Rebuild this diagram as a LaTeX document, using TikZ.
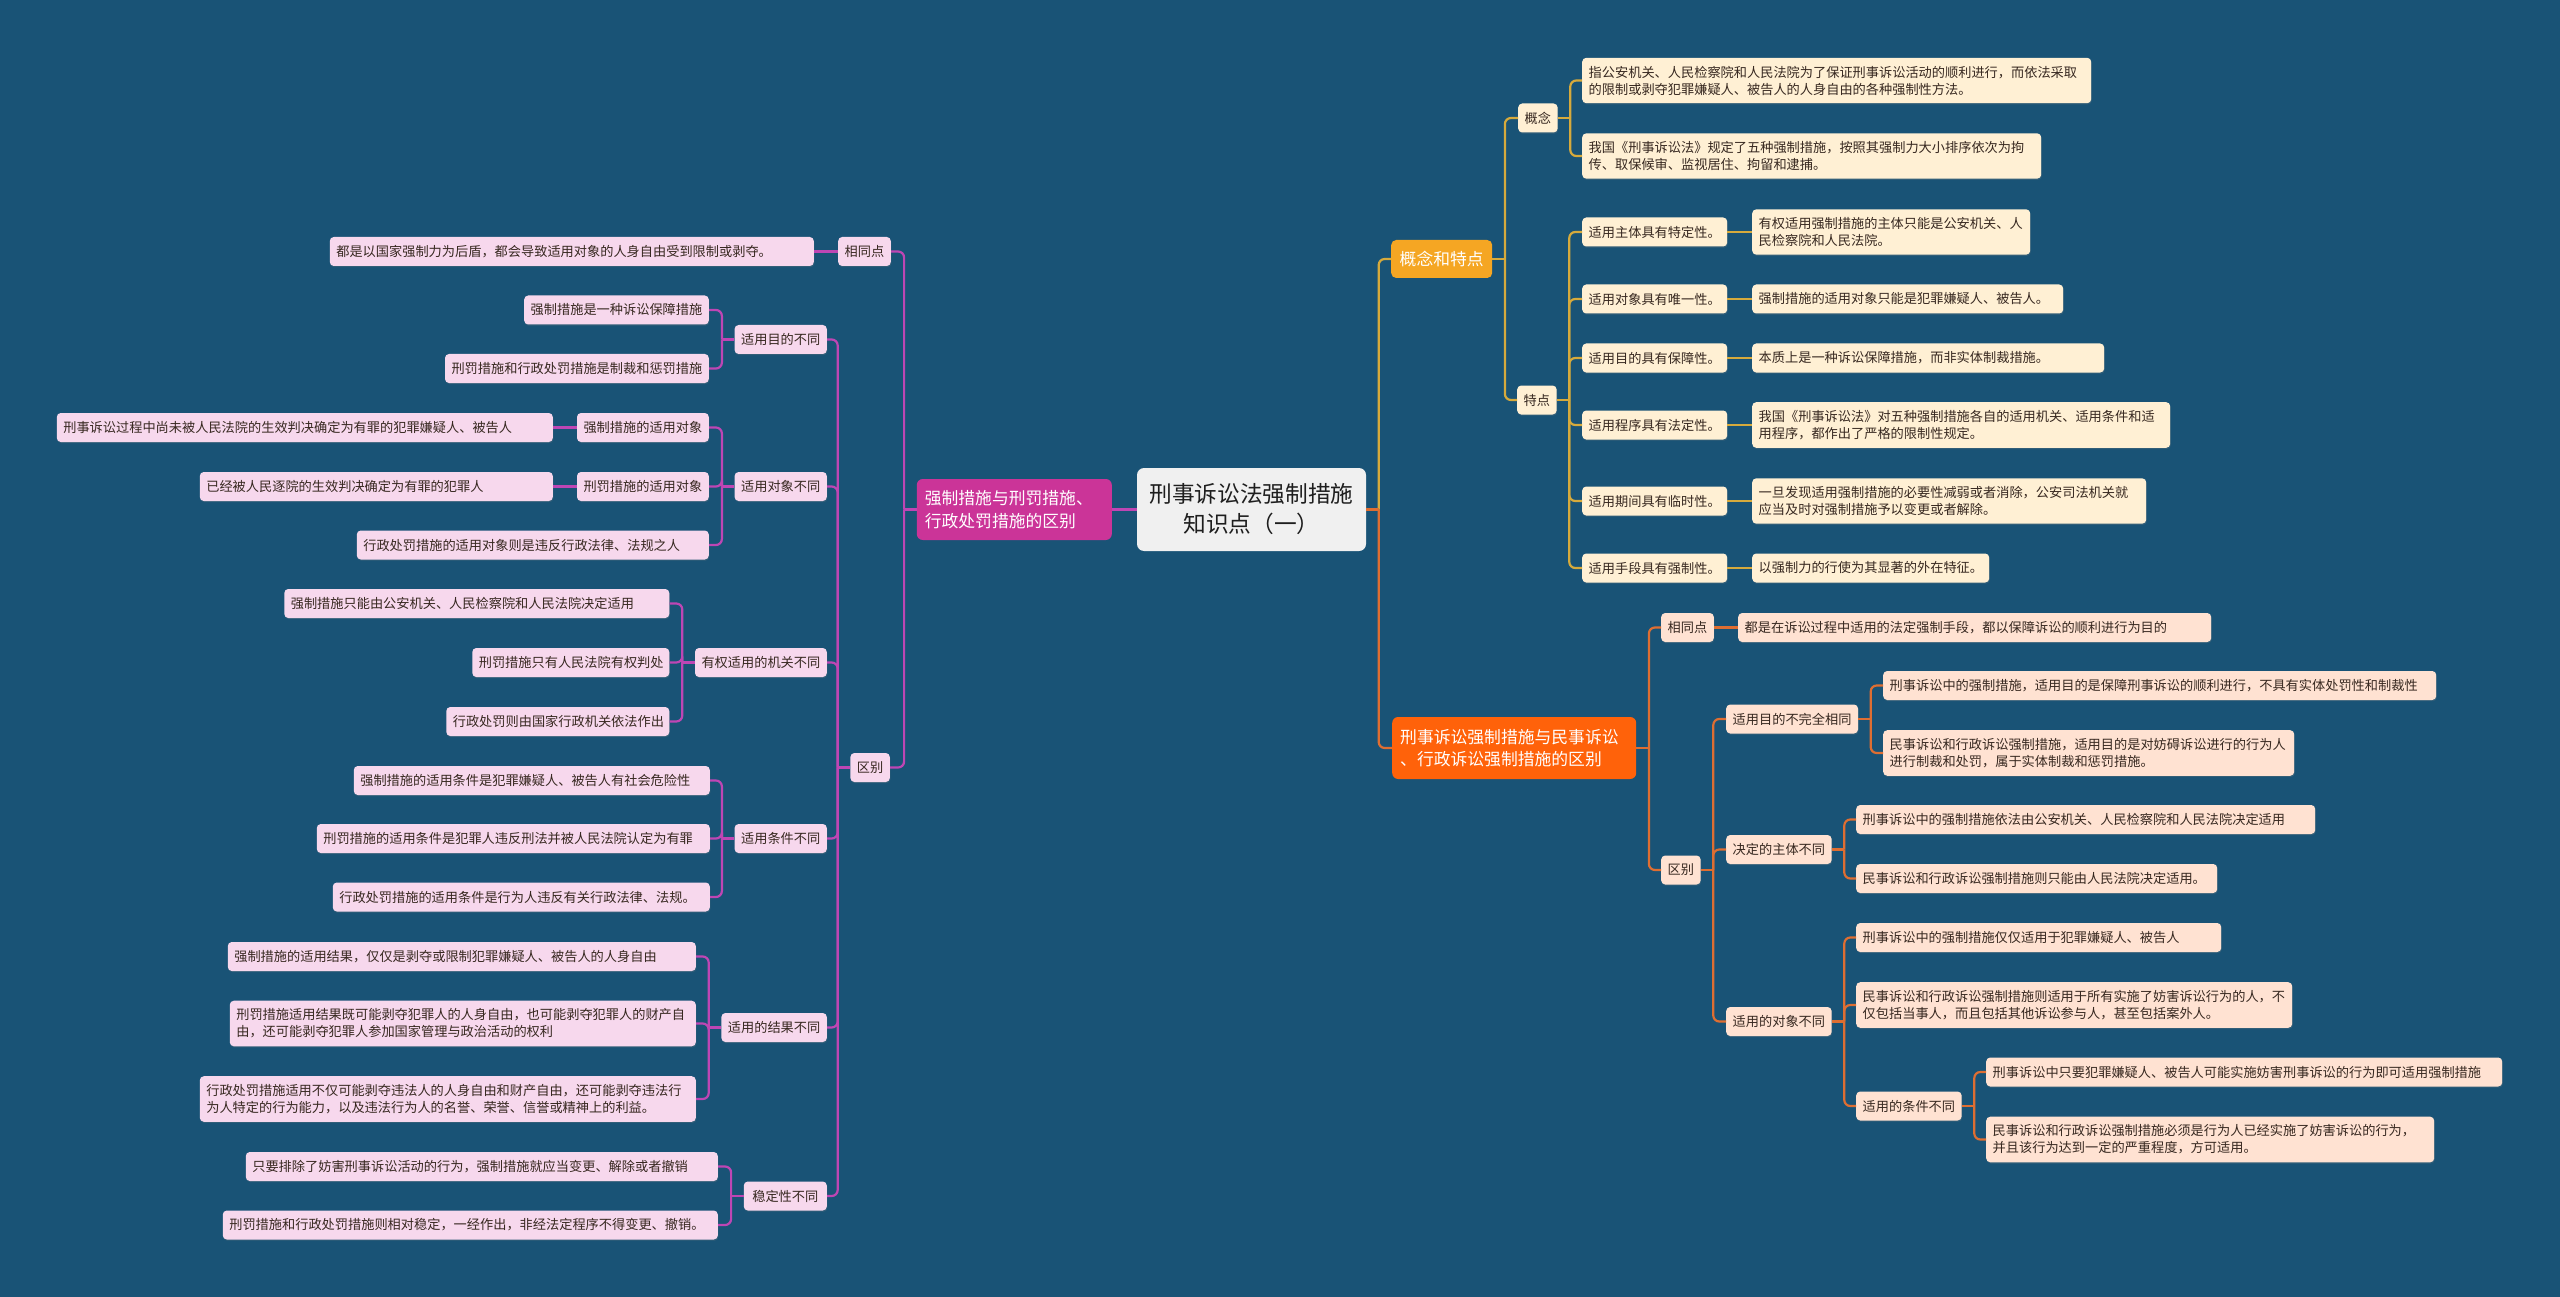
\documentclass[tikz,border=0pt]{standalone}
\usepackage{fontspec}
\setmainfont{Noto Sans CJK SC}
\usepackage{xcolor}
\usetikzlibrary{shadows}

\definecolor{bgblue}{RGB}{25,83,118}
\definecolor{rootfill}{RGB}{240,240,240}
\definecolor{roottext}{RGB}{30,30,30}
\definecolor{inktext}{RGB}{55,40,32}
\definecolor{pinkmain}{RGB}{203,52,152}
\definecolor{pinkleaf}{RGB}{247,216,237}
\definecolor{pinkline}{RGB}{190,70,180}
\definecolor{goldmain}{RGB}{245,166,35}
\definecolor{goldleaf}{RGB}{255,240,212}
\definecolor{goldline}{RGB}{214,170,60}
\definecolor{orgmain}{RGB}{255,98,10}
\definecolor{orgleaf}{RGB}{255,226,210}
\definecolor{orgline}{RGB}{222,110,50}

\newcommand\leaffont{\fontsize{13.2pt}{17pt}\selectfont}
\newcommand\branchfont{\fontsize{16.8pt}{22.5pt}\selectfont}
\newcommand\rootfont{\fontsize{22.7pt}{30pt}\selectfont}

\begin{document}
\begin{tikzpicture}[x=1pt,y=-1pt,
  leaf/.style={rounded corners=4,inner xsep=6.5,inner ysep=8,minimum height=29,align=left,font=\leaffont,text=inktext,
    drop shadow={shadow xshift=0.6pt,shadow yshift=-1.2pt,opacity=0.25}},
  lleaf/.style={leaf,fill=pinkleaf,anchor=east},
  gleaf/.style={leaf,fill=goldleaf,anchor=west},
  oleaf/.style={leaf,fill=orgleaf,anchor=west},
  plink/.style={draw=pinkline,line width=2.2,rounded corners=6},
  glink/.style={draw=goldline,line width=2.2,rounded corners=6},
  olink/.style={draw=orgline,line width=2.2,rounded corners=6}]

\fill[bgblue] (0,0) rectangle (2560,1297);

% centre
\node[fill=rootfill,rounded corners=7,minimum width=229,minimum height=83,align=center,font=\rootfont,text=roottext] (root) at (1251.5,509.5) {刑事诉讼法强制措施\\知识点（一）};

% left branch
\node[fill=pinkmain,rounded corners=6,anchor=east,text width=179pt,inner xsep=8,minimum height=61,align=left,font=\branchfont,text=white] (lmain) at (1112,509.5) {强制措施与刑罚措施、\\行政处罚措施的区别};

\node[lleaf] (lsame) at (891,251.5) {相同点};
\node[lleaf,text width=471pt] (lsameT) at (814,251.5) {都是以国家强制力为后盾，都会导致适用对象的人身自由受到限制或剥夺。};
\node[lleaf] (ldiff) at (890,767.5) {区别};

\node[lleaf] (ld1) at (827,339.5) {适用目的不同};
\node[lleaf] (ld1a) at (709,310) {强制措施是一种诉讼保障措施};
\node[lleaf] (ld1b) at (709,368.5) {刑罚措施和行政处罚措施是制裁和惩罚措施};

\node[lleaf] (ld2) at (827,486.5) {适用对象不同};
\node[lleaf] (ld2a) at (709,427.5) {强制措施的适用对象};
\node[lleaf,text width=483pt] (ld2aT) at (553,427.5) {刑事诉讼过程中尚未被人民法院的生效判决确定为有罪的犯罪嫌疑人、被告人};
\node[lleaf] (ld2b) at (709,486.5) {刑罚措施的适用对象};
\node[lleaf,text width=340pt] (ld2bT) at (553,486.5) {已经被人民逐院的生效判决确定为有罪的犯罪人};
\node[lleaf,text width=339pt] (ld2c) at (709,545) {行政处罚措施的适用对象则是违反行政法律、法规之人};

\node[lleaf] (ld3) at (827,662.5) {有权适用的机关不同};
\node[lleaf,text width=372pt] (ld3a) at (669.5,603.5) {强制措施只能由公安机关、人民检察院和人民法院决定适用};
\node[lleaf,text width=184pt] (ld3b) at (669.5,662.5) {刑罚措施只有人民法院有权判处};
\node[lleaf,text width=210pt] (ld3c) at (669.5,721.5) {行政处罚则由国家行政机关依法作出};

\node[lleaf] (ld4) at (827,838.5) {适用条件不同};
\node[lleaf,text width=343pt] (ld4a) at (710,780.5) {强制措施的适用条件是犯罪嫌疑人、被告人有社会危险性};
\node[lleaf,text width=380pt] (ld4b) at (710,838.5) {刑罚措施的适用条件是犯罪人违反刑法并被人民法院认定为有罪};
\node[lleaf,text width=364pt] (ld4c) at (710,897) {行政处罚措施的适用条件是行为人违反有关行政法律、法规。};

\node[lleaf] (ld5) at (827,1027.5) {适用的结果不同};
\node[lleaf,text width=455pt] (ld5a) at (696,956.5) {强制措施的适用结果，仅仅是剥夺或限制犯罪嫌疑人、被告人的人身自由};
\node[lleaf,text width=453pt] (ld5b) at (696,1023.5) {刑罚措施适用结果既可能剥夺犯罪人的人身自由，也可能剥夺犯罪人的财产自\\由，还可能剥夺犯罪人参加国家管理与政治活动的权利};
\node[lleaf,text width=483pt] (ld5c) at (696,1099) {行政处罚措施适用不仅可能剥夺违法人的人身自由和财产自由，还可能剥夺违法行\\为人特定的行为能力，以及违法行为人的名誉、荣誉、信誉或精神上的利益。};

\node[lleaf,minimum width=83] (ld6) at (827,1196) {稳定性不同};
\node[lleaf,text width=459pt] (ld6a) at (718,1166.5) {只要排除了妨害刑事诉讼活动的行为，强制措施就应当变更、解除或者撤销};
\node[lleaf,text width=482pt] (ld6b) at (718,1225) {刑罚措施和行政处罚措施则相对稳定，一经作出，非经法定程序不得变更、撤销。};

% right upper branch
\node[fill=goldmain,rounded corners=5,anchor=west,minimum width=101,minimum height=38,font=\branchfont,text=white] (rtop) at (1391,259) {概念和特点};

\node[gleaf] (gn) at (1518,118) {概念};
\node[gleaf,text width=496pt] (gn1) at (1582,80.5) {指公安机关、人民检察院和人民法院为了保证刑事诉讼活动的顺利进行，而依法采取\\的限制或剥夺犯罪嫌疑人、被告人的人身自由的各种强制性方法。};
\node[gleaf,text width=446pt] (gn2) at (1582,156) {我国《刑事诉讼法》规定了五种强制措施，按照其强制力大小排序依次为拘\\传、取保候审、监视居住、拘留和逮捕。};

\node[gleaf] (gt) at (1517,400) {特点};
\node[gleaf] (gt1) at (1582,232) {适用主体具有特定性。};
\node[gleaf,text width=265pt] (gt1T) at (1752,232) {有权适用强制措施的主体只能是公安机关、人\\民检察院和人民法院。};
\node[gleaf] (gt2) at (1582,299) {适用对象具有唯一性。};
\node[gleaf,text width=298pt] (gt2T) at (1752,299) {强制措施的适用对象只能是犯罪嫌疑人、被告人。};
\node[gleaf] (gt3) at (1582,358) {适用目的具有保障性。};
\node[gleaf,text width=339pt] (gt3T) at (1752,358) {本质上是一种诉讼保障措施，而非实体制裁措施。};
\node[gleaf] (gt4) at (1582,425) {适用程序具有法定性。};
\node[gleaf,text width=405pt] (gt4T) at (1752,425) {我国《刑事诉讼法》对五种强制措施各自的适用机关、适用条件和适\\用程序，都作出了严格的限制性规定。};
\node[gleaf] (gt5) at (1582,501) {适用期间具有临时性。};
\node[gleaf,text width=381pt] (gt5T) at (1752,501) {一旦发现适用强制措施的必要性减弱或者消除，公安司法机关就\\应当及时对强制措施予以变更或者解除。};
\node[gleaf] (gt6) at (1582,568) {适用手段具有强制性。};
\node[gleaf,text width=224pt] (gt6T) at (1752,568) {以强制力的行使为其显著的外在特征。};

% right lower branch
\node[fill=orgmain,rounded corners=6,anchor=west,text width=228pt,inner xsep=8,minimum height=62,align=left,font=\branchfont,text=white] (rbot) at (1392,748) {刑事诉讼强制措施与民事诉讼\\、行政诉讼强制措施的区别};

\node[oleaf] (rsame) at (1661,627.5) {相同点};
\node[oleaf,text width=460pt] (rsameT) at (1738,627.5) {都是在诉讼过程中适用的法定强制手段，都以保障诉讼的顺利进行为目的};
\node[oleaf] (rdiff) at (1661,870) {区别};

\node[oleaf] (rd1) at (1726,719) {适用目的不完全相同};
\node[oleaf,text width=540pt] (rd1a) at (1883,685.5) {刑事诉讼中的强制措施，适用目的是保障刑事诉讼的顺利进行，不具有实体处罚性和制裁性};
\node[oleaf,text width=398pt] (rd1b) at (1883,753) {民事诉讼和行政诉讼强制措施，适用目的是对妨碍诉讼进行的行为人\\进行制裁和处罚，属于实体制裁和惩罚措施。};

\node[oleaf] (rd2) at (1726,849.5) {决定的主体不同};
\node[oleaf,text width=446pt] (rd2a) at (1856,819.5) {刑事诉讼中的强制措施依法由公安机关、人民检察院和人民法院决定适用};
\node[oleaf,text width=348pt] (rd2b) at (1856,878.5) {民事诉讼和行政诉讼强制措施则只能由人民法院决定适用。};

\node[oleaf] (rd3) at (1726,1021.5) {适用的对象不同};
\node[oleaf,text width=352pt] (rd3a) at (1856,937.5) {刑事诉讼中的强制措施仅仅适用于犯罪嫌疑人、被告人};
\node[oleaf,text width=423pt] (rd3b) at (1856,1005) {民事诉讼和行政诉讼强制措施则适用于所有实施了妨害诉讼行为的人，不\\仅包括当事人，而且包括其他诉讼参与人，甚至包括案外人。};
\node[oleaf] (rd3c) at (1856,1106) {适用的条件不同};
\node[oleaf,text width=503pt] (rd3c1) at (1986,1072) {刑事诉讼中只要犯罪嫌疑人、被告人可能实施妨害刑事诉讼的行为即可适用强制措施};
\node[oleaf,text width=435pt] (rd3c2) at (1986,1139.5) {民事诉讼和行政诉讼强制措施必须是行为人已经实施了妨害诉讼的行为，\\并且该行为达到一定的严重程度，方可适用。};

% connectors
\draw[plink] (root.west) -- (lmain.east);
\foreach \p/\c in {lmain/lsame,lmain/ldiff,ldiff/ld1,ldiff/ld2,ldiff/ld3,ldiff/ld4,ldiff/ld5,ldiff/ld6,
    ld1/ld1a,ld1/ld1b,ld2/ld2a,ld2/ld2b,ld2/ld2c,ld3/ld3a,ld3/ld3b,ld3/ld3c,
    ld4/ld4a,ld4/ld4b,ld4/ld4c,ld5/ld5a,ld5/ld5b,ld5/ld5c,ld6/ld6a,ld6/ld6b}
  \draw[plink] (\p.west) ++(-12.5,0) |- (\c.east);
\foreach \p in {lmain,ldiff,ld1,ld2,ld3,ld4,ld5,ld6}
  \draw[plink] (\p.west) -- ++(-12.5,0);
\foreach \p/\c in {lsame/lsameT,ld2a/ld2aT,ld2b/ld2bT}
  \draw[plink] (\p.west) -- (\c.east);

\foreach \p/\c in {root/rtop,rtop/gn,rtop/gt,gn/gn1,gn/gn2,gt/gt1,gt/gt2,gt/gt3,gt/gt4,gt/gt5,gt/gt6}
  \draw[glink] (\p.east) ++(12.5,0) |- (\c.west);
\foreach \p in {rtop,gn,gt}
  \draw[glink] (\p.east) -- ++(12.5,0);
\foreach \p/\c in {gt1/gt1T,gt2/gt2T,gt3/gt3T,gt4/gt4T,gt5/gt5T,gt6/gt6T}
  \draw[glink] (\p.east) -- (\c.west);

\foreach \p/\c in {root/rbot,rbot/rsame,rbot/rdiff,rdiff/rd1,rdiff/rd2,rdiff/rd3,
    rd1/rd1a,rd1/rd1b,rd2/rd2a,rd2/rd2b,rd3/rd3a,rd3/rd3b,rd3/rd3c,rd3c/rd3c1,rd3c/rd3c2}
  \draw[olink] (\p.east) ++(12.5,0) |- (\c.west);
\foreach \p in {root,rbot,rdiff,rd1,rd2,rd3,rd3c}
  \draw[olink] (\p.east) -- ++(12.5,0);
\draw[olink] (rsame.east) -- (rsameT.west);
\end{tikzpicture}
\end{document}
